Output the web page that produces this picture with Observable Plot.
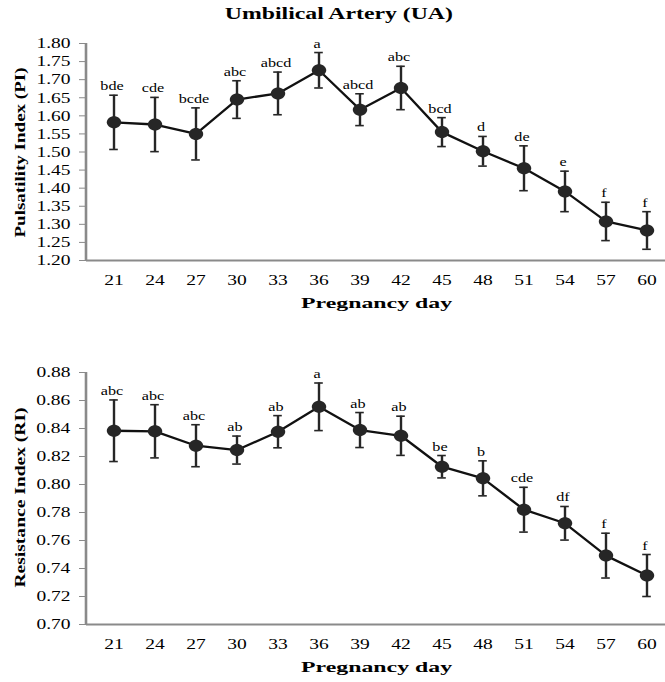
<!DOCTYPE html>
<html>
<head>
<meta charset="utf-8">
<script src="https://cdn.jsdelivr.net/npm/d3@7"></script>
<script src="https://cdn.jsdelivr.net/npm/@observablehq/plot@0.6"></script>
<style>
  html, body { margin: 0; padding: 0; background: #fff; }
  #root { position: relative; width: 665px; height: 682px; font-family: "Liberation Serif", serif; color: #000; background:#fff; }
  .lbl { position: absolute; font-weight: bold; white-space: nowrap; line-height: 1; z-index: 3; font-family: "Liberation Serif", serif; }
  .plotbox { position: absolute; left: 0; z-index: 1; }
  .plotbox svg { overflow: visible; background: transparent; }
</style>
</head>
<body>
<div id="root">
  <div class="plotbox" id="p1" style="top:0px"></div>
  <div class="plotbox" id="p2" style="top:330px"></div>
  <div class="lbl" id="title" data-w="228" data-cx="339" style="top:6px;font-size:16px;">Umbilical Artery (UA)</div>
  <div class="lbl" data-w="151" data-cx="377" style="top:296px;font-size:15px;">Pregnancy day</div>
  <div class="lbl" data-w="151" data-cx="377" style="top:660px;font-size:15px;">Pregnancy day</div>
  <div class="lbl" data-vh="170" data-cx="20" data-cy="152" style="top:0;font-size:15px;">Pulsatility Index (PI)</div>
  <div class="lbl" data-vh="180" data-cx="20" data-cy="497" style="top:0;font-size:15px;">Resistance Index (RI)</div>
</div>
<script>
// ---- Data ----
const days = [21, 24, 27, 30, 33, 36, 39, 42, 45, 48, 51, 54, 57, 60];

const piMean = [1.582, 1.576, 1.550, 1.645, 1.662, 1.726, 1.617, 1.677, 1.555, 1.502, 1.455, 1.391, 1.308, 1.283];
const piSE   = [0.075, 0.075, 0.072, 0.052, 0.059, 0.049, 0.044, 0.060, 0.040, 0.041, 0.062, 0.056, 0.053, 0.052];
const piLetters = ["bde", "cde", "bcde", "abc", "abcd", "a", "abcd", "abc", "bcd", "d", "de", "e", "f", "f"];

const riMean = [0.8384, 0.838, 0.8277, 0.8246, 0.8377, 0.8555, 0.8389, 0.8348, 0.8127, 0.8044, 0.782, 0.7723, 0.7492, 0.735];
const riSE   = [0.022, 0.019, 0.015, 0.010, 0.0115, 0.017, 0.0125, 0.014, 0.008, 0.0125, 0.016, 0.012, 0.016, 0.015];
const riLetters = ["abc", "abc", "abc", "ab", "ab", "a", "ab", "ab", "be", "b", "cde", "df", "f", "f"];

const piTicks = d3.range(0, 13).map(i => +(1.20 + i * 0.05).toFixed(2));
const riTicks = d3.range(0, 10).map(i => +(0.70 + i * 0.02).toFixed(2));

const AXIS = "#8a8a8a";
const INK = "#262626";

// ellipse-shaped marker (reference markers are slightly wider than tall)
const ellipse = {
  draw(ctx) {
    const rx = 7.2, ry = 6, k = 0.5523;
    ctx.moveTo(rx, 0);
    ctx.bezierCurveTo(rx, ry * k, rx * k, ry, 0, ry);
    ctx.bezierCurveTo(-rx * k, ry, -rx, ry * k, -rx, 0);
    ctx.bezierCurveTo(-rx, -ry * k, -rx * k, -ry, 0, -ry);
    ctx.bezierCurveTo(rx * k, -ry, rx, -ry * k, rx, 0);
    ctx.closePath();
  }
};

function build(mean, se, letters, yDomain, yTicks, height, mTop, mBottom) {
  const rows = days.map((d, i) => ({
    day: String(d), mean: mean[i], lo: mean[i] - se[i], hi: mean[i] + se[i], letter: letters[i]
  }));
  return Plot.plot({
    width: 665,
    height,
    marginLeft: 86,
    marginRight: 0,
    marginTop: mTop,
    marginBottom: mBottom,
    style: { fontFamily: "'Liberation Serif', serif", fontSize: "15px", color: "#000", background: "transparent", overflow: "visible" },
    x: {
      type: "band",
      domain: days.map(String),
      range: [88, 672],
      padding: 0,
      tickSize: 0,
      tickPadding: 14,
      label: null
    },
    y: {
      domain: yDomain,
      ticks: yTicks,
      tickFormat: d3.format(".2f"),
      tickSize: 7,
      tickPadding: 9,
      label: null
    },
    marks: [
      Plot.ruleY([yDomain[0]], { stroke: AXIS, strokeWidth: 2 }),
      Plot.ruleX(rows, { x: "day", y1: "lo", y2: "hi", stroke: INK, strokeWidth: 2.4 }),
      Plot.tickY(rows, { x: "day", y: "hi", stroke: INK, strokeWidth: 1.6, insetLeft: 16.2, insetRight: 16.2 }),
      Plot.tickY(rows, { x: "day", y: "lo", stroke: INK, strokeWidth: 1.6, insetLeft: 16.2, insetRight: 16.2 }),
      Plot.line(rows, { x: "day", y: "mean", stroke: "#111", strokeWidth: 2.3 }),
      Plot.dot(rows, { x: "day", y: "mean", symbol: ellipse, fill: INK, stroke: "none" }),
      Plot.text(rows, { x: "day", y: "hi", text: "letter", lineAnchor: "bottom", dy: -5, dx: -2, fontSize: 13.5, fill: "#000" })
    ]
  });
}

function stretchText(t, s) {
  const bb = t.getBBox();
  const anchor = getComputedStyle(t).textAnchor;
  const ax = anchor === "end" ? bb.x + bb.width : anchor === "middle" ? bb.x + bb.width / 2 : bb.x;
  const prev = t.getAttribute("transform") || "";
  t.setAttribute("transform", `${prev} translate(${ax},0) scale(${s},1) translate(${-ax},0)`);
}

function finish(svg, top, bottom) {
  const ns = "http://www.w3.org/2000/svg";
  const l = document.createElementNS(ns, "line");
  l.setAttribute("x1", 86); l.setAttribute("x2", 86);
  l.setAttribute("y1", top); l.setAttribute("y2", bottom);
  l.setAttribute("stroke", AXIS); l.setAttribute("stroke-width", 2.6);
  svg.appendChild(l);
  svg.setAttribute("font-family", "Liberation Serif");
  svg.querySelectorAll("text").forEach(t => { t.style.fontFamily = "'Liberation Serif', serif"; });
  // grey y tick marks
  svg.querySelectorAll("g[aria-label^='y-axis tick'] path, g[aria-label='y-axis'] line").forEach(p => p.setAttribute("stroke", AXIS));
}

function stretchAll(svg) {
  svg.querySelectorAll("g[aria-label^='x-axis tick label'] text, g[aria-label^='y-axis tick label'] text, g[aria-label='x-axis'] text, g[aria-label='y-axis'] text")
    .forEach(t => stretchText(t, 1.3));
  svg.querySelectorAll("g[aria-label='text'] text").forEach(t => stretchText(t, 1.2));
}

const s1 = build(piMean, piSE, piLetters, [1.2, 1.8], piTicks, 315, 43, 55);
finish(s1, 43, 261);
document.getElementById("p1").appendChild(s1);

const s2 = build(riMean, riSE, riLetters, [0.70, 0.88], riTicks, 352, 42, 58);
finish(s2, 42, 295);
document.getElementById("p2").appendChild(s2);

stretchAll(s1);
stretchAll(s2);

// size HTML labels to the reference's extents
document.querySelectorAll(".lbl").forEach(el => {
  const w = el.getBoundingClientRect().width;
  if (el.dataset.w) {
    const s = +el.dataset.w / w;
    el.style.left = (+el.dataset.cx - w / 2) + "px";
    el.style.transform = `scaleX(${s})`;
  } else if (el.dataset.vh) {
    const h = el.getBoundingClientRect().height;
    const s = +el.dataset.vh / w;
    el.style.left = (+el.dataset.cx - w / 2) + "px";
    el.style.top = (+el.dataset.cy - h / 2) + "px";
    el.style.transform = `rotate(-90deg) scaleX(${s})`;
  }
});
</script>
</body>
</html>
